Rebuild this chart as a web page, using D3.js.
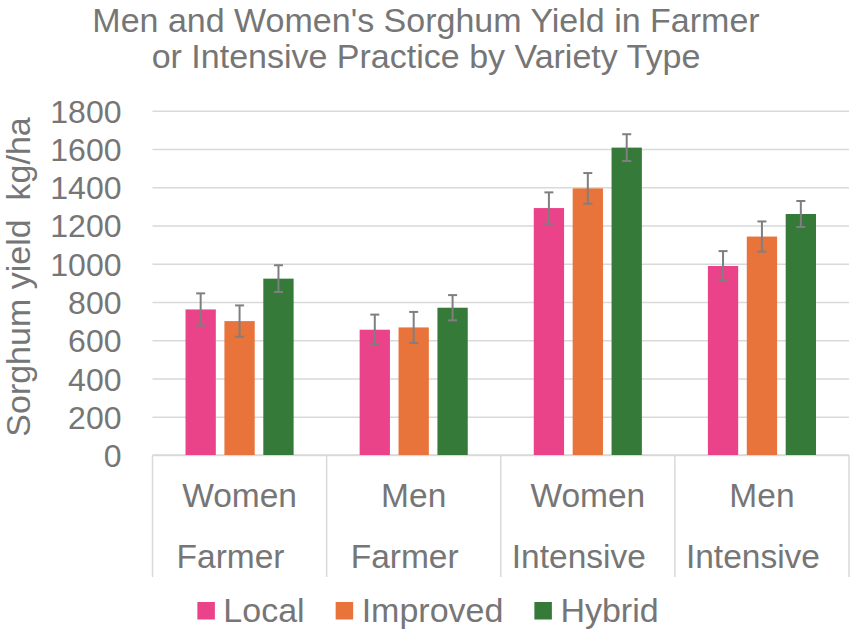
<!DOCTYPE html>
<html>
<head>
<meta charset="utf-8">
<script src="https://cdn.jsdelivr.net/npm/d3@7"></script>
<style>
  body { margin: 0; background: #fff; }
  text { font-family: "Liberation Sans", Arial, sans-serif; fill: #767676; }
</style>
</head>
<body>
<svg id="chart" width="854" height="633"></svg>
<script>
// data
const groups = ["Women Farmer", "Men Farmer", "Women Intensive", "Men Intensive"];
const groupTop = ["Women", "Men", "Women", "Men"];
const groupBottom = ["Farmer", "Farmer", "Intensive", "Intensive"];
const series = ["Local", "Improved", "Hybrid"];
const local = [761, 655, 1291, 988];
const improved = [700, 667, 1394, 1142];
const hybrid = [922, 770, 1607, 1260];
const localErr = [84, 79, 82, 78];
const improvedErr = [82, 81, 80, 79];
const hybridErr = [70, 66, 70, 68];
const yTicks = [0, 200, 400, 600, 800, 1000, 1200, 1400, 1600, 1800];
const colors = ["#EA4389", "#E8743B", "#357A38"];
const titleLines = ["Men and Women's Sorghum Yield in Farmer", "or Intensive Practice by Variety Type"];
const yTitle = "Sorghum yield  kg/ha";

const values = [local, improved, hybrid];
const errors = [localErr, improvedErr, hybridErr];

const svg = d3.select("#chart");
const plotLeft = 152.5, plotRight = 849, plotTop = 110.7, plotBottom = 455;

const x = d3.scaleBand().domain(groups).range([plotLeft, plotRight]).padding(0);
const groupW = 108.1;
const x1 = d3.scaleBand().domain(series)
    .range([(x.bandwidth() - groupW) / 2, (x.bandwidth() + groupW) / 2])
    .paddingInner(0.221).paddingOuter(0);
const y = d3.scaleLinear().domain([0, 1800]).range([plotBottom, plotTop]);

// title
svg.append("g").selectAll("text")
  .data(titleLines)
  .join("text")
    .attr("x", 426)
    .attr("y", (d, i) => 32 + i * 36)
    .attr("text-anchor", "middle")
    .style("font-size", "34px")
    .text(d => d);

// y axis with gridlines
const yAxis = svg.append("g")
  .attr("transform", `translate(${plotLeft},0)`)
  .call(d3.axisLeft(y).tickValues(yTicks).tickFormat(d3.format("d"))
    .tickSizeInner(-(plotRight - plotLeft)).tickSizeOuter(0).tickPadding(31));
yAxis.select(".domain").remove();
yAxis.selectAll(".tick line").attr("stroke", "#d9d9d9").attr("stroke-width", 1.5);
yAxis.selectAll(".tick text")
  .style("font-size", "32px")
  .style("font-family", "'Liberation Sans', Arial, sans-serif")
  .attr("fill", "#767676")
  .attr("dy", "0.36em");

// y title
svg.append("text")
  .attr("transform", "translate(30,277) rotate(-90)")
  .attr("text-anchor", "middle")
  .style("font-size", "34px")
  .style("white-space", "pre")
  .text(yTitle);

// category axis: baseline + separators
svg.append("line")
  .attr("x1", plotLeft).attr("x2", plotRight)
  .attr("y1", plotBottom).attr("y2", plotBottom)
  .attr("stroke", "#d9d9d9").attr("stroke-width", 1.5);
svg.append("g").selectAll("line")
  .data(groups.concat(["end"]))
  .join("line")
    .attr("x1", (d, i) => plotLeft + i * x.bandwidth())
    .attr("x2", (d, i) => plotLeft + i * x.bandwidth())
    .attr("y1", plotBottom).attr("y2", 577)
    .attr("stroke", "#d9d9d9").attr("stroke-width", 1.5);

svg.append("g").selectAll("text")
  .data(groups)
  .join("text")
    .attr("x", d => x(d) + x.bandwidth() / 2)
    .attr("y", 507)
    .attr("text-anchor", "middle")
    .style("font-size", "33.5px")
    .text((d, i) => groupTop[i]);
svg.append("g").selectAll("text")
  .data(groups)
  .join("text")
    .attr("x", d => x(d) + x.bandwidth() / 2 - 9)
    .attr("y", 568)
    .attr("text-anchor", "middle")
    .style("font-size", "33.5px")
    .text((d, i) => groupBottom[i]);

// bars
const barG = svg.append("g").selectAll("g")
  .data(groups)
  .join("g")
    .attr("transform", d => `translate(${x(d)},0)`);

const cells = barG.selectAll("g")
  .data((g, gi) => series.map((s, si) => ({ s, si, v: values[si][gi], e: errors[si][gi] })))
  .join("g");

cells.append("rect")
  .attr("x", d => x1(d.s))
  .attr("width", x1.bandwidth())
  .attr("y", d => y(d.v))
  .attr("height", d => y(0) - y(d.v))
  .attr("fill", d => colors[d.si]);

// error bars
const cx = d => x1(d.s) + x1.bandwidth() / 2;
cells.append("line")
  .attr("x1", cx).attr("x2", cx)
  .attr("y1", d => y(d.v + d.e)).attr("y2", d => y(d.v - d.e))
  .attr("stroke", "#7f7f7f").attr("stroke-width", 2);
cells.append("line")
  .attr("x1", d => cx(d) - 4.5).attr("x2", d => cx(d) + 4.5)
  .attr("y1", d => y(d.v + d.e)).attr("y2", d => y(d.v + d.e))
  .attr("stroke", "#7f7f7f").attr("stroke-width", 2);
cells.append("line")
  .attr("x1", d => cx(d) - 4.5).attr("x2", d => cx(d) + 4.5)
  .attr("y1", d => y(d.v - d.e)).attr("y2", d => y(d.v - d.e))
  .attr("stroke", "#7f7f7f").attr("stroke-width", 2);

// legend
const legend = svg.append("g");
let lx = 0;
series.forEach((s, i) => {
  const item = legend.append("g").attr("transform", `translate(${lx},0)`);
  item.append("rect")
    .attr("x", 0).attr("y", 602).attr("width", 17.5).attr("height", 17.5)
    .attr("fill", colors[i]);
  const t = item.append("text")
    .attr("x", 26).attr("y", 622)
    .style("font-size", "34px")
    .text(s);
  lx += 26 + t.node().getComputedTextLength() + 31;
});
const legendW = lx - 31;
legend.attr("transform", `translate(${428 - legendW / 2},0)`);
</script>
</body>
</html>
